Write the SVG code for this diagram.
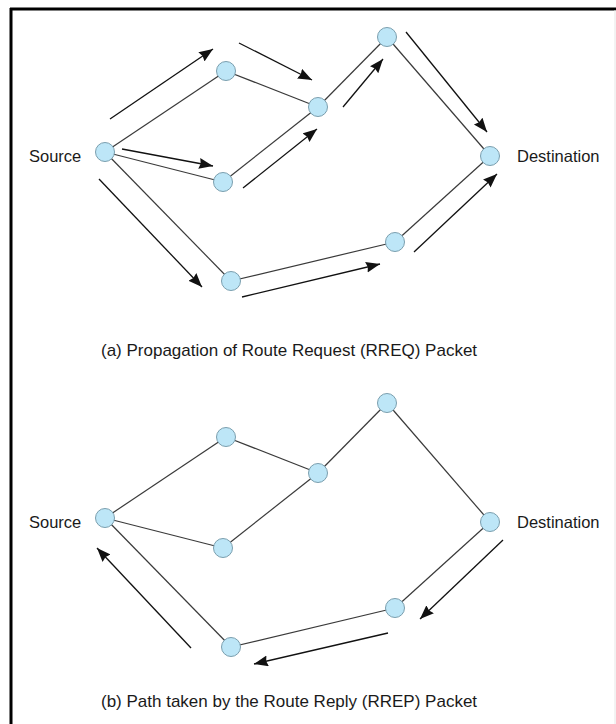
<svg xmlns="http://www.w3.org/2000/svg" width="616" height="724" viewBox="0 0 616 724">
<style>
.edge{stroke:#3a3a3a;stroke-width:1.2;fill:none}
.arr{stroke:#111;stroke-width:1.3;fill:none;marker-end:url(#ah)}
.node{fill:#bde6f7;stroke:#7a9eae;stroke-width:1}
.lbl{font-family:"Liberation Sans",Arial,sans-serif;font-size:16.5px;fill:#1a1a1a}
.cap{font-family:"Liberation Sans",Arial,sans-serif;font-size:17px;fill:#1a1a1a}
</style>
<defs>
<marker id="ah" markerUnits="userSpaceOnUse" markerWidth="15" markerHeight="12" refX="14" refY="5.5" orient="auto">
<path d="M0,0 L14,5.5 L0,11 L1.5,5.5 z" fill="#111"/>
</marker>
</defs>
<rect x="0" y="0" width="616" height="724" fill="#fff"/>
<g id="frame">
<line x1="10" y1="9" x2="616" y2="9" stroke="#000" stroke-width="3"/>
<line x1="11" y1="8" x2="11" y2="724" stroke="#000" stroke-width="3"/>
<line x1="615" y1="10" x2="615" y2="724" stroke="#e6e6e6" stroke-width="1"/>
</g>
<g id="connectors">
<g id="edges-a">
<line class="edge" x1="105" y1="152" x2="226" y2="71"/>
<line class="edge" x1="105" y1="152" x2="223" y2="182"/>
<line class="edge" x1="105" y1="152" x2="231" y2="281"/>
<line class="edge" x1="226" y1="71" x2="318" y2="107"/>
<line class="edge" x1="223" y1="182" x2="318" y2="107"/>
<line class="edge" x1="318" y1="107" x2="387" y2="37"/>
<line class="edge" x1="387" y1="37" x2="490" y2="156"/>
<line class="edge" x1="231" y1="281" x2="395" y2="242"/>
<line class="edge" x1="395" y1="242" x2="490" y2="156"/>
</g>
<g id="arrows-a">
<line class="arr" x1="110" y1="119" x2="213" y2="49"/>
<line class="arr" x1="239" y1="43" x2="312" y2="80"/>
<line class="arr" x1="122" y1="149" x2="213" y2="166"/>
<line class="arr" x1="243" y1="188" x2="317" y2="129"/>
<line class="arr" x1="99" y1="179" x2="202" y2="287"/>
<line class="arr" x1="343" y1="107" x2="383" y2="59"/>
<line class="arr" x1="406" y1="32" x2="487" y2="132"/>
<line class="arr" x1="414" y1="252" x2="497" y2="174"/>
<line class="arr" x1="242" y1="297" x2="380" y2="264"/>
</g>
<g id="edges-b">
<line class="edge" x1="105" y1="518" x2="226" y2="437"/>
<line class="edge" x1="105" y1="518" x2="223" y2="548"/>
<line class="edge" x1="105" y1="518" x2="231" y2="647"/>
<line class="edge" x1="226" y1="437" x2="318" y2="473"/>
<line class="edge" x1="223" y1="548" x2="318" y2="473"/>
<line class="edge" x1="318" y1="473" x2="387" y2="403"/>
<line class="edge" x1="387" y1="403" x2="490" y2="522"/>
<line class="edge" x1="231" y1="647" x2="395" y2="608"/>
<line class="edge" x1="395" y1="608" x2="490" y2="522"/>
</g>
<g id="arrows-b">
<line class="arr" x1="191" y1="648" x2="97" y2="548"/>
<line class="arr" x1="503" y1="540" x2="420" y2="619"/>
<line class="arr" x1="388" y1="633" x2="254" y2="664"/>
</g>
</g>
<g id="a-source"><circle class="node" cx="105" cy="152" r="9.5"/><text class="lbl" x="29" y="162">Source</text></g>
<g id="a-n1"><circle class="node" cx="226" cy="71" r="9.5"/></g>
<g id="a-n2"><circle class="node" cx="223" cy="182" r="9.5"/></g>
<g id="a-n3"><circle class="node" cx="318" cy="107" r="9.5"/></g>
<g id="a-n4"><circle class="node" cx="387" cy="37" r="9.5"/></g>
<g id="a-dest"><circle class="node" cx="490" cy="156" r="9.5"/><text class="lbl" x="517" y="162">Destination</text></g>
<g id="a-n5"><circle class="node" cx="395" cy="242" r="9.5"/></g>
<g id="a-n6"><circle class="node" cx="231" cy="281" r="9.5"/></g>
<g id="caption-a"><text class="cap" x="101" y="356">(a) Propagation of Route Request (RREQ) Packet</text></g>
<g id="b-source"><circle class="node" cx="105" cy="518" r="9.5"/><text class="lbl" x="29" y="528">Source</text></g>
<g id="b-n1"><circle class="node" cx="226" cy="437" r="9.5"/></g>
<g id="b-n2"><circle class="node" cx="223" cy="548" r="9.5"/></g>
<g id="b-n3"><circle class="node" cx="318" cy="473" r="9.5"/></g>
<g id="b-n4"><circle class="node" cx="387" cy="403" r="9.5"/></g>
<g id="b-dest"><circle class="node" cx="490" cy="522" r="9.5"/><text class="lbl" x="517" y="528">Destination</text></g>
<g id="b-n5"><circle class="node" cx="395" cy="608" r="9.5"/></g>
<g id="b-n6"><circle class="node" cx="231" cy="647" r="9.5"/></g>
<g id="caption-b"><text class="cap" x="101" y="707">(b) Path taken by the Route Reply (RREP) Packet</text></g>
</svg>
